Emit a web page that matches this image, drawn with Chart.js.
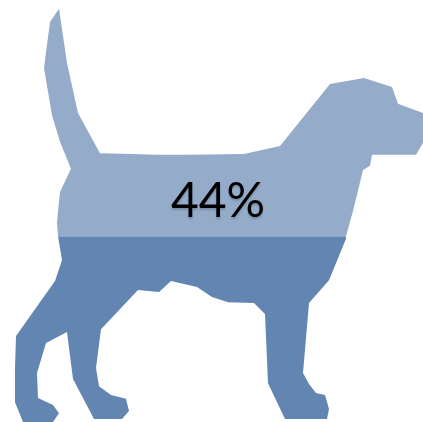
<!DOCTYPE html>
<html>
<head>
<meta charset="utf-8">
<title>44%</title>
<script src="https://cdn.jsdelivr.net/npm/chart.js@4"></script>
<style>
  html, body { margin: 0; background: #fff; overflow: hidden; }
</style>
</head>
<body>
<canvas id="myChart" width="423" height="422"></canvas>
<script>
// fill level of the silhouette, in percent of its height
const level = 44;

// outline above the fill level
const upperX = [58, 57, 58, 60, 71, 60, 52, 44, 50, 59, 67, 78, 100, 132, 157, 187, 244, 280, 330, 364, 392, 398, 423, 423, 416, 372, 370, 363, 353, 346];
const upperY = [level, 47.2, 50, 54.5, 60, 66.4, 72.7, 83.9, 94.8, 97.9, 85.1, 73.2, 63.7, 63.5, 63.3, 63.3, 63.5, 65.4, 80.1, 81.5, 79.4, 75.4, 73.2, 66.1, 63.3, 63.3, 60.7, 59.7, 50, level];

// outline below the fill level
const lowerX = [346, 346, 329, 309, 303, 309, 316, 325, 329, 327, 285, 268, 265, 254, 228, 212, 197, 171, 159, 138, 101, 96, 99, 111, 126, 129, 122, 94, 73, 67, 46, 37, 38, 53, 59, 53, 23, 15, 15, 16, 55, 62, 58];
const lowerY = [level, 43.4, 33.6, 28.2, 11.6, 9, 6.9, 6.4, 3.1, 0.7, 0.7, 9.2, 25.6, 28.2, 28.4, 29.6, 32, 33.4, 30.8, 31.3, 22, 12.8, 8.5, 6.4, 5.5, 2.6, 0.7, 0.7, 10.2, 21.3, 18.7, 11.6, 5.7, 4, 2.1, 0, 0, 4.7, 12.8, 20.4, 33.4, 38.4, level];

const toPoints = (xs, ys) => xs.map((x, i) => ({ x: x, y: ys[i] }));

// writes the percentage in the middle of the body
const levelLabel = {
    id: 'levelLabel',
    afterDatasetsDraw(chart) {
        const c = chart.ctx;
        c.save();
        c.font = '48px Lato';
        c.fillStyle = '#000';
        c.textAlign = 'center';
        c.textBaseline = 'alphabetic';
        c.shadowColor = 'rgba(0,0,0,0.18)';
        c.shadowBlur = 2;
        c.shadowOffsetY = 2;
        c.fillText(level + '%', chart.scales.x.getPixelForValue(218), chart.scales.y.getPixelForValue(48.6));
        c.restore();
    }
};

const ctx = document.getElementById('myChart').getContext('2d');
const myChart = new Chart(ctx, {
    type: 'scatter',
    data: {
        datasets: [
            {
                data: toPoints(upperX, upperY),
                showLine: true,
                fill: 'shape',
                backgroundColor: '#94abc9',
                borderColor: '#94abc9',
                borderWidth: 0,
                pointRadius: 0
            },
            {
                data: toPoints(lowerX, lowerY),
                showLine: true,
                fill: 'shape',
                backgroundColor: '#6285b2',
                borderColor: '#6285b2',
                borderWidth: 0,
                pointRadius: 0
            }
        ]
    },
    options: {
        responsive: false,
        animation: false,
        layout: { padding: 0 },
        plugins: {
            legend: { display: false },
            tooltip: { enabled: false }
        },
        scales: {
            x: { type: 'linear', display: false, min: 0, max: 423 },
            y: { type: 'linear', display: false, min: 0, max: 100 }
        }
    },
    plugins: [levelLabel]
});
</script>
</body>
</html>
